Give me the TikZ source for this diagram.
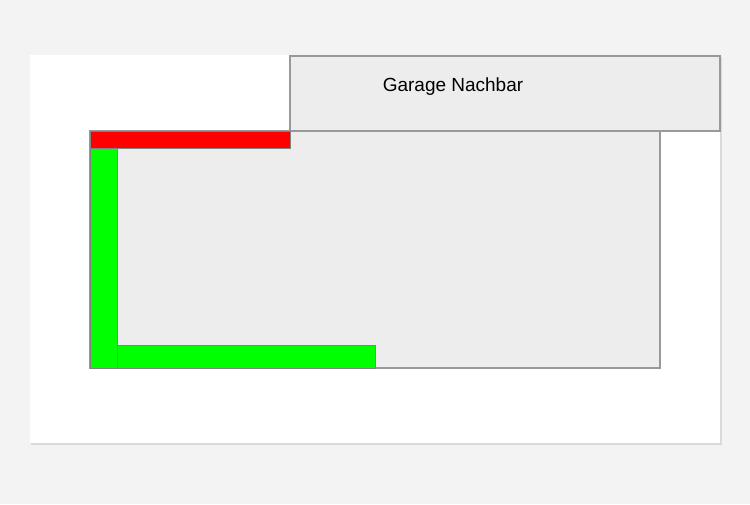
\documentclass[tikz,border=0pt]{standalone}
\usepackage{fontspec}
\setmainfont{Liberation Sans}
\definecolor{bgc}{HTML}{F3F3F3}
\definecolor{boxfill}{HTML}{EDEDED}
\definecolor{boxline}{HTML}{999999}
\definecolor{shadowc}{HTML}{DADADA}
\begin{document}
\begin{tikzpicture}[x=1pt,y=-1pt,
  area/.style={draw=boxline,fill=boxfill,line width=1.3pt},
  bar/.style={draw=boxline!85!black,line width=1pt}]
\useasboundingbox (0,0) rectangle (750,504);
\fill[bgc] (0,0) rectangle (750,504);
% page with shadow
\fill[shadowc] (31,57) rectangle (722,445);
\fill[white] (30,55) rectangle (720,443);
% main area
\draw[area] (90,131) rectangle (660,368);
% neighbour garage
\draw[area] (290,56) rectangle (720,131);
\node[font=\fontsize{19}{22}\selectfont, anchor=center] (garage) at (453,87) {Garage Nachbar};
% red bar
\draw[bar,fill=red] (90,131) rectangle (290,148);
% green bars
\draw[bar,fill=green] (90,148) rectangle (117,368);
\draw[bar,fill=green] (117,345) rectangle (375,368);
\end{tikzpicture}
\end{document}
